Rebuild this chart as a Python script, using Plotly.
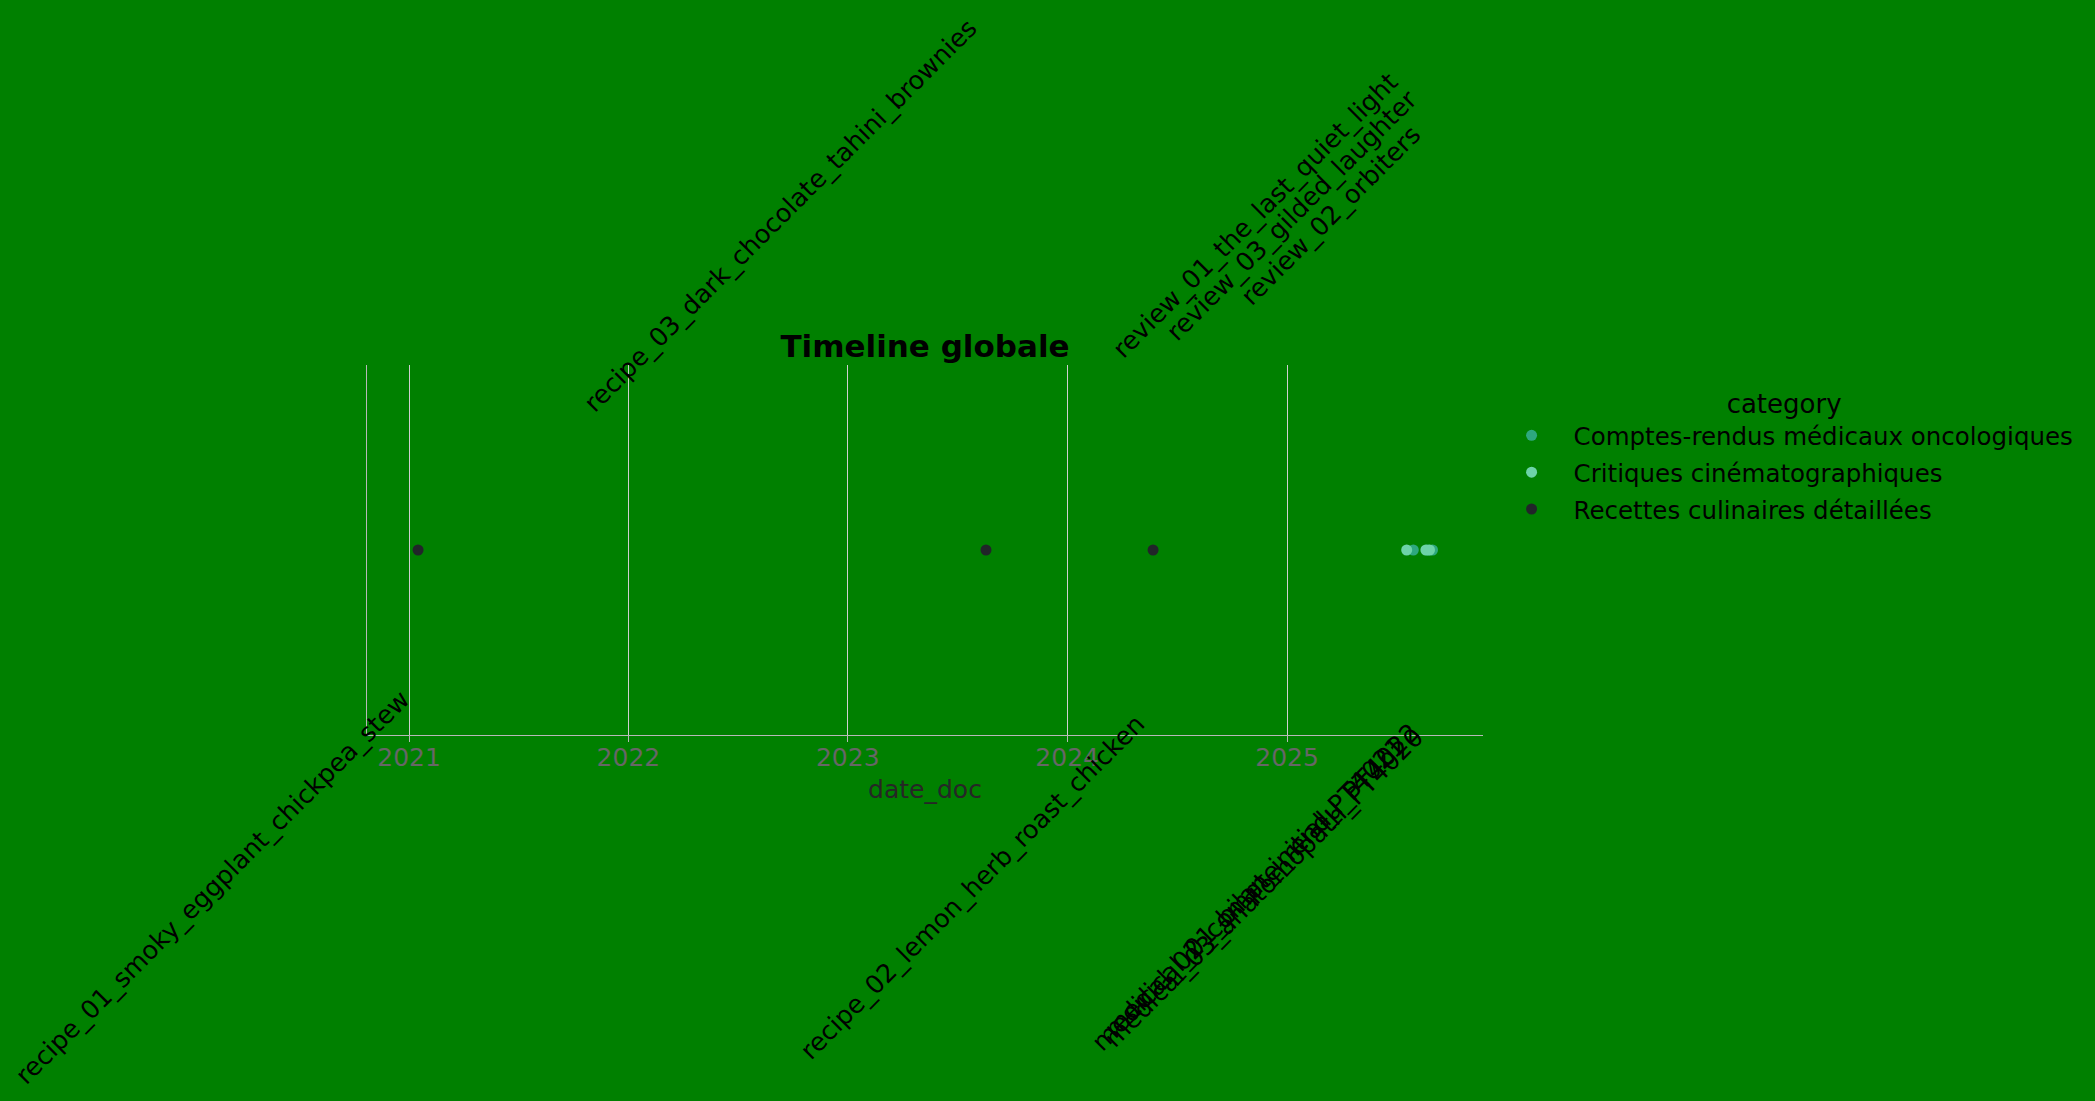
import pandas as pd
import plotly.graph_objects as go

# ---- data (sorted by date) ----
doc_names = [
    "recipe_01_smoky_eggplant_chickpea_stew",
    "recipe_03_dark_chocolate_tahini_brownies",
    "recipe_02_lemon_herb_roast_chicken",
    "review_01_the_last_quiet_light",
    "medical_01_bilan_initial_PT4021",
    "review_03_gilded_laughter",
    "medical_02_compte_rendu_PT4022",
    "review_02_orbiters",
    "medical_03_anatomopath_PT4020",
]
doc_dates = [
    "2021-01-16",
    "2023-08-19",
    "2024-05-23",
    "2025-07-19",
    "2025-07-30",
    "2025-08-20",
    "2025-08-23",
    "2025-08-26",
    "2025-08-31",
]
doc_categories = [
    "Recettes culinaires détaillées",
    "Recettes culinaires détaillées",
    "Recettes culinaires détaillées",
    "Critiques cinématographiques",
    "Comptes-rendus médicaux oncologiques",
    "Critiques cinématographiques",
    "Comptes-rendus médicaux oncologiques",
    "Critiques cinématographiques",
    "Comptes-rendus médicaux oncologiques",
]
category_order = [
    "Comptes-rendus médicaux oncologiques",
    "Critiques cinématographiques",
    "Recettes culinaires détaillées",
]
category_colors = ["#2ea87f", "#6dd3a8", "#212529"]

FONT = "DejaVu Sans"
BG = "#008000"

fig = go.Figure()
for cat, col in zip(category_order, category_colors):
    xs = [d for d, c in zip(doc_dates, doc_categories) if c == cat]
    names = [n for n, c in zip(doc_names, doc_categories) if c == cat]
    fig.add_trace(go.Scatter(
        x=xs, y=[0] * len(xs), mode="markers", name=cat, legendgroup=cat,
        text=names, marker=dict(color=col, size=11),
        hovertemplate="%{text}<br>%{x}<extra></extra>",
    ))

# rotated labels, alternating below / above in date order
for i, (n, d) in enumerate(zip(doc_names, doc_dates)):
    above = i % 2 == 1
    fig.add_annotation(
        x=d, xref="x", y=1.405 if above else -0.41, yref="paper",
        text=n, showarrow=False, textangle=-45,
        xanchor="right", yanchor="middle",
        font=dict(family=FONT, size=25.5, color="#000000"),
    )

# x range: data extent padded by 5% of the span (annotations excluded)
dts = pd.to_datetime(doc_dates)
pad = (dts.max() - dts.min()) * 0.05
x_range = [(dts.min() - pad).strftime("%Y-%m-%d"), (dts.max() + pad).strftime("%Y-%m-%d")]

fig.update_layout(
    width=2095, height=1101,
    paper_bgcolor=BG, plot_bgcolor=BG,
    font=dict(family=FONT, size=25, color="#000000"),
    margin=dict(l=367, r=612, t=365, b=366),
    title=dict(text="<b>Timeline globale</b>", x=0.5, xref="paper", xanchor="center",
               y=1, yref="paper", yanchor="bottom", pad=dict(b=8),
               font=dict(family=FONT, size=31, color="#000000")),
    legend=dict(title=dict(text="<span style='font-size:26px'>category</span>",
                           side="top center",
                           font=dict(family=FONT, size=30, color="#000000")),
                x=1.0059, xanchor="left", y=0.976, yanchor="top",
                itemwidth=74, bgcolor="rgba(0,0,0,0)",
                traceorder="grouped", tracegroupgap=2,
                font=dict(family=FONT, size=24.5, color="#000000")),
    showlegend=True,
)
fig.update_xaxes(
    title=dict(text="date_doc", standoff=9,
               font=dict(family=FONT, size=25, color="#262626")),
    type="date", range=x_range, dtick="M12", tickformat="%Y",
    showgrid=True, gridcolor="#cfcfcf", gridwidth=1,
    showline=True, linecolor="#b8b8b8", linewidth=1,
    ticks="outside", ticklen=6, tickcolor="#b8b8b8",
    ticklabelstandoff=-6,
    tickfont=dict(family=FONT, size=25, color="#666666"),
    zeroline=False,
)
fig.update_yaxes(
    showticklabels=False, showgrid=False, zeroline=False,
    showline=True, linecolor="#b8b8b8", linewidth=1, ticks="",
)

fig.write_html("out.html")
